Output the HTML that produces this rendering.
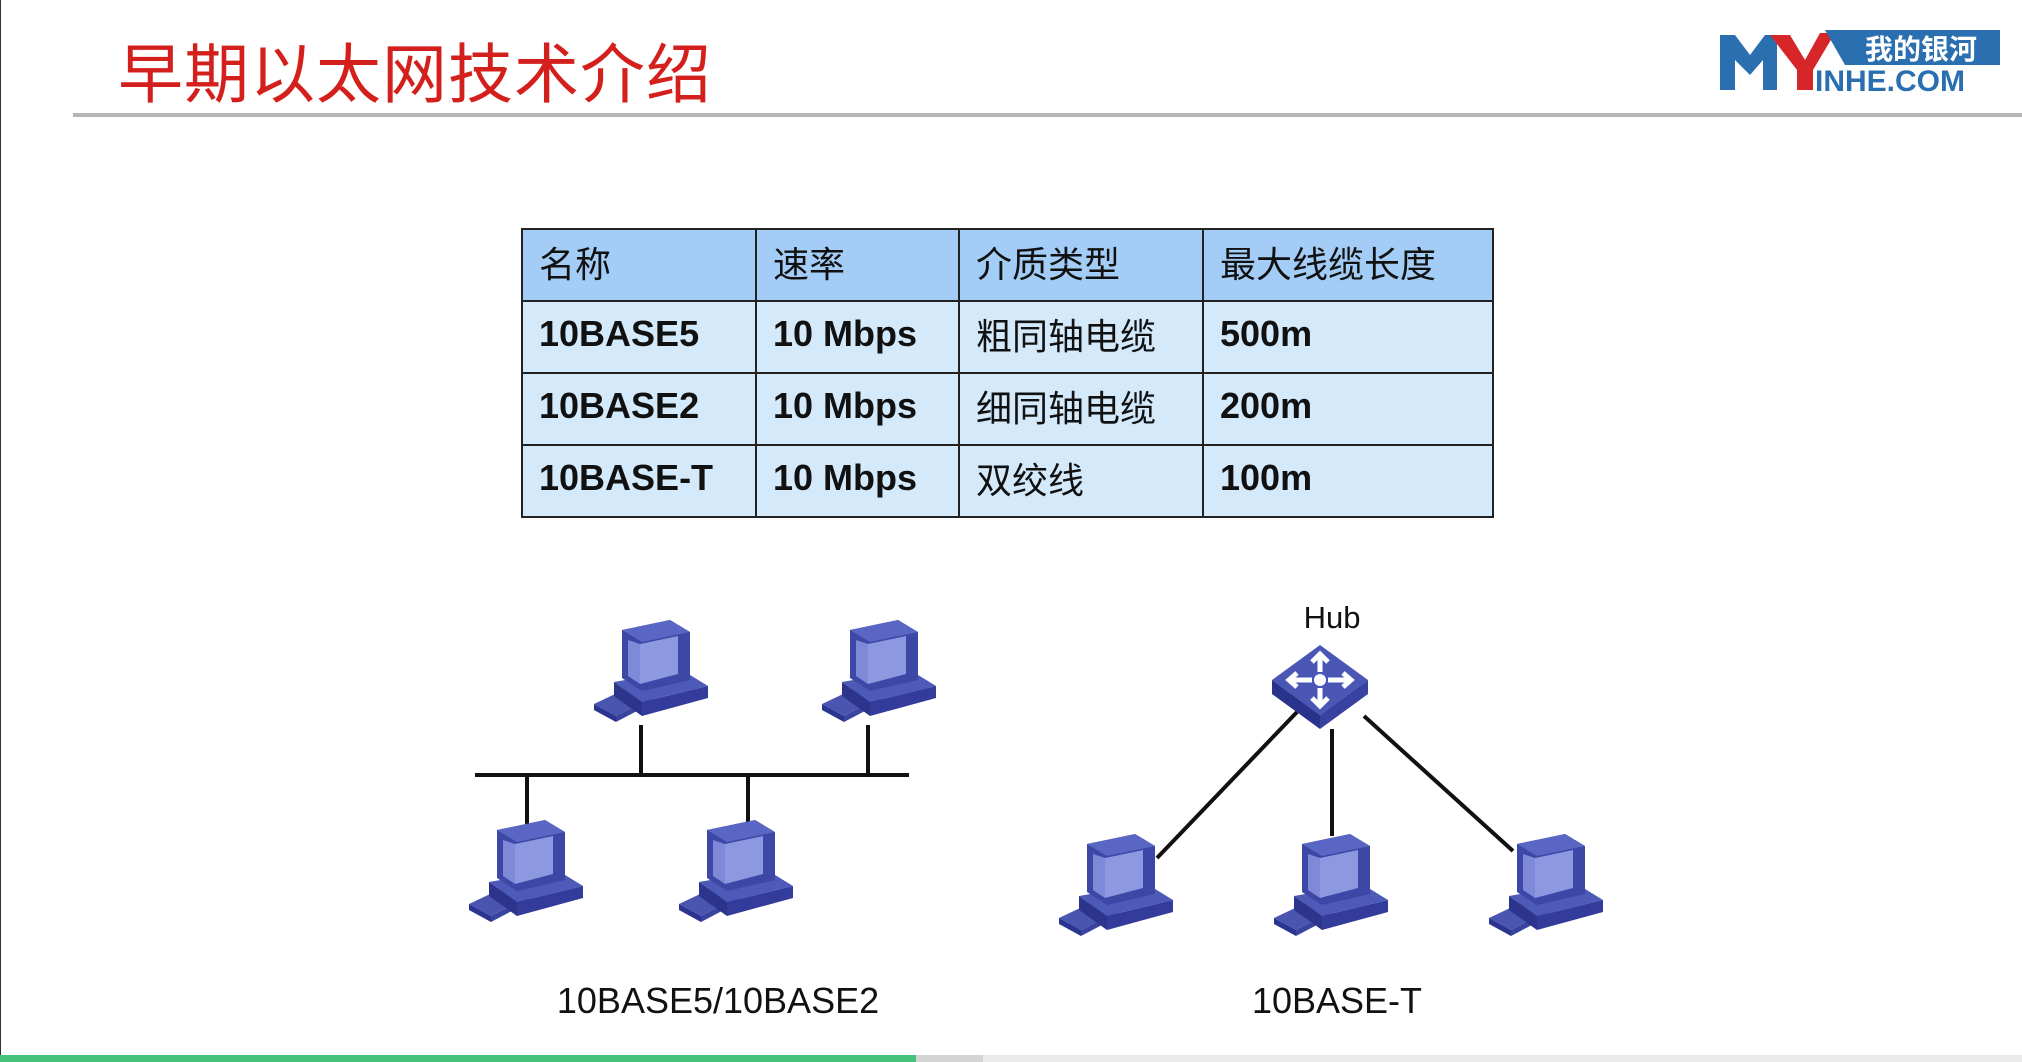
<!DOCTYPE html>
<html><head><meta charset="utf-8"><style>
body{margin:0;width:2022px;height:1062px;background:#fff;position:relative;overflow:hidden;font-family:"Liberation Sans","Noto Sans CJK SC",sans-serif}
.t{position:absolute;left:118px;top:22px;font-size:65px;color:#d4201c;font-family:"Liberation Sans","Noto Sans CJK SC",sans-serif;letter-spacing:1px}
table{position:absolute;left:521px;top:228px;border-collapse:collapse}
td{border:2px solid #222;font-size:36px;padding:0 16px 6px;height:64px;color:#111}
tr.h td{background:#a3cdf6}
tr.r td{background:#d4eafb}
b{font-family:"Liberation Sans",sans-serif}
.lab{position:absolute;font-size:36px;color:#111;transform:translateX(-50%)}
</style></head><body>
<div style="position:absolute;left:0;top:0;width:1px;height:1062px;background:#333"></div>
<div class="t">早期以太网技术介绍</div>
<div style="position:absolute;left:73px;top:113px;width:1949px;height:4px;background:#b5b5b5"></div>
<svg style="position:absolute;left:1715px;top:25px" width="290" height="70" viewBox="0 0 290 70">
<polygon points="5,10 20,10 35,30 50,10 62,10 62,65 48,65 48,35 35,50 20,35 20,65 5,65" fill="#2a6fb0"/>
<polygon points="55,10 75,10 90,35 105,8 120,8 98,45 98,65 82,65 82,45" fill="#d7262a"/>
<polygon points="110,5 285,5 285,40 130,40" fill="#2a6fb0"/>
<text x="150" y="34" font-size="28" fill="#fff" font-weight="bold" font-family="Noto Sans CJK SC">我的银河</text>
<text x="100" y="66" font-size="30" fill="#2a6fb0" font-weight="bold" font-family="Liberation Sans">INHE.COM</text>
</svg>
<table>
<tr class="h"><td style="width:200px">名称</td><td style="width:169px">速率</td><td style="width:210px">介质类型</td><td style="width:256px">最大线缆长度</td></tr>
<tr class="r"><td><b>10BASE5</b></td><td><b>10 Mbps</b></td><td>粗同轴电缆</td><td><b>500m</b></td></tr>
<tr class="r"><td><b>10BASE2</b></td><td><b>10 Mbps</b></td><td>细同轴电缆</td><td><b>200m</b></td></tr>
<tr class="r"><td><b>10BASE-T</b></td><td><b>10 Mbps</b></td><td>双绞线</td><td><b>100m</b></td></tr>
</table>
<svg style="position:absolute;left:0;top:0" width="2022" height="1062">
<defs>
<g id="pc">
<polygon points="2,84 40,66 62,76 24,96" fill="#4a55b0"/>
<polygon points="2,84 24,96 24,102 2,90" fill="#2b3490"/>
<polygon points="24,96 62,76 62,82 24,102" fill="#3a44a0"/>
<polygon points="22,62 90,50 116,66 50,82" fill="#4e5ab8"/>
<polygon points="50,82 116,66 116,78 50,96" fill="#333c9a"/>
<polygon points="22,62 50,82 50,96 22,76" fill="#2c348c"/>
<polygon points="30,10 78,0 98,12 98,60 50,71 30,58" fill="#3c47a6"/>
<polygon points="30,10 78,0 98,12 50,22" fill="#5a66c4"/>
<polygon points="36,20 48,24 48,64 36,56" fill="#7e8ad8"/>
<polygon points="48,24 86,16 86,54 48,64" fill="#8c98e0"/>
</g>
<g id="hub">
<polygon points="0,35 48,0 96,35 48,70" fill="#4a56b4"/>
<polygon points="0,35 48,70 48,84 0,49" fill="#2a338c"/>
<polygon points="48,70 96,35 96,49 48,84" fill="#3842a0"/>
<circle cx="48" cy="35" r="6" fill="#fff"/>
<path d="M48,27 V10 M40,17 L48,9 L56,17 M48,43 V60 M40,53 L48,61 L56,53 M40,35 H18 M25,28 L17,35 L25,42 M56,35 H78 M71,28 L79,35 L71,42" stroke="#fff" stroke-width="5" fill="none"/>
</g>
</defs>
<g stroke="#111" stroke-width="4">
<line x1="475" y1="775" x2="909" y2="775"/>
<line x1="641" y1="725" x2="641" y2="775"/>
<line x1="868" y1="725" x2="868" y2="775"/>
<line x1="527" y1="775" x2="527" y2="825"/>
<line x1="748" y1="775" x2="748" y2="825"/>
<line x1="1297" y1="712" x2="1157" y2="858"/>
<line x1="1332" y1="729" x2="1332" y2="836"/>
<line x1="1364" y1="716" x2="1513" y2="851"/>
</g>
<use href="#pc" x="592" y="620"/>
<use href="#pc" x="820" y="620"/>
<use href="#pc" x="467" y="820"/>
<use href="#pc" x="677" y="820"/>
<use href="#pc" x="1057" y="834"/>
<use href="#pc" x="1272" y="834"/>
<use href="#pc" x="1487" y="834"/>
<use href="#hub" x="1272" y="645"/>
</svg>
<div class="lab" style="left:1332px;top:600px;font-size:31px">Hub</div>
<div class="lab" style="left:718px;top:980px">10BASE5/10BASE2</div>
<div class="lab" style="left:1337px;top:980px">10BASE-T</div>
<div style="position:absolute;left:0;top:1055px;width:916px;height:7px;background:#45c37a"></div>
<div style="position:absolute;left:916px;top:1055px;width:67px;height:7px;background:#d4d4d4"></div>
<div style="position:absolute;left:983px;top:1055px;width:1039px;height:7px;background:#ebebeb"></div>
</body></html>
